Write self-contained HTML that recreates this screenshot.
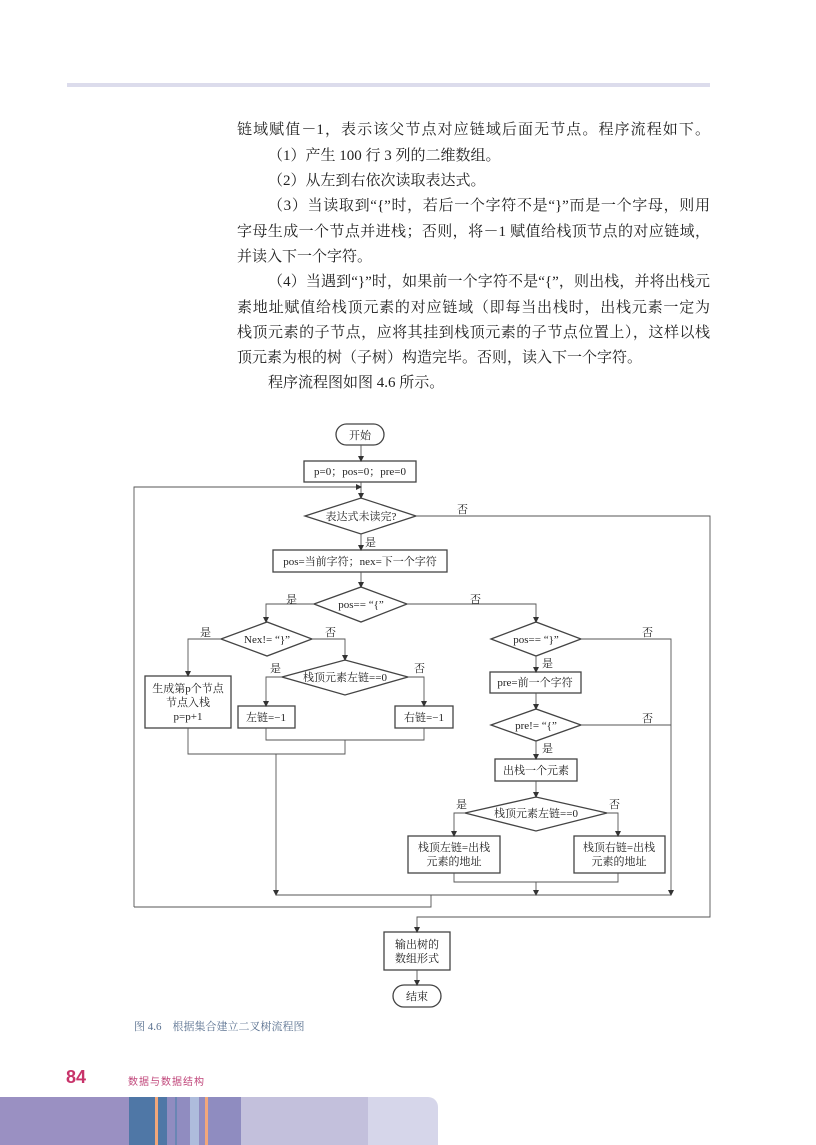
<!DOCTYPE html>
<html><head><meta charset="utf-8"><style>
*{margin:0;padding:0}
body{width:816px;height:1145px;position:relative;background:#fff;overflow:hidden;font-family:"Liberation Serif","Noto Serif CJK SC",serif;color:#222}
.rule{position:absolute;left:67px;top:83px;width:643px;height:4px;background:#dcdcec}
.l{position:absolute;left:237px;width:473px;font-size:15px;line-height:20px;white-space:nowrap}
.j{text-align:justify;text-align-last:justify;white-space:normal}
.in{left:268px;width:442px}
svg{position:absolute;left:0;top:0}
svg text{font-family:"Liberation Serif","Noto Serif CJK SC",serif;font-size:11px;fill:#222}
.cap{position:absolute;left:134px;top:1018px;font-size:11px;color:#5a7190;font-family:"Liberation Serif","Noto Serif CJK SC",serif}
.pn{position:absolute;left:66px;top:1067px;font:bold 18px "Liberation Sans",sans-serif;color:#c8336a}
.pt{position:absolute;left:128px;top:1073px;font-size:10px;color:#c0467a;font-family:"Liberation Sans","Noto Sans CJK SC",sans-serif;letter-spacing:1px}
.bar{position:absolute;top:1097px;height:48px}
</style></head><body>
<div class="rule"></div>
<div class="l j" style="top:120px">链域赋值－1，表示该父节点对应链域后面无节点。程序流程如下。</div>
<div class="l in" style="top:146px">（1）产生 100 行 3 列的二维数组。</div>
<div class="l in" style="top:171px">（2）从左到右依次读取表达式。</div>
<div class="l in j" style="top:196px">（3）当读取到“{”时，若后一个字符不是“}”而是一个字母，则用</div>
<div class="l j" style="top:222px">字母生成一个节点并进栈；否则，将－1 赋值给栈顶节点的对应链域，</div>
<div class="l" style="top:247px">并读入下一个字符。</div>
<div class="l in j" style="top:272px">（4）当遇到“}”时，如果前一个字符不是“{”，则出栈，并将出栈元</div>
<div class="l j" style="top:298px">素地址赋值给栈顶元素的对应链域（即每当出栈时，出栈元素一定为</div>
<div class="l j" style="top:323px">栈顶元素的子节点，应将其挂到栈顶元素的子节点位置上），这样以栈</div>
<div class="l" style="top:348px">顶元素为根的树（子树）构造完毕。否则，读入下一个字符。</div>
<div class="l in" style="top:373px">程序流程图如图 4.6 所示。</div>

<svg width="816" height="1145" viewBox="0 0 816 1145">
<defs><marker id="a" markerWidth="6" markerHeight="6" refX="5" refY="3" orient="auto" markerUnits="userSpaceOnUse"><path d="M0,0 L6,3 L0,6 z" fill="#333"/></marker></defs>
<g fill="none" stroke="#444" stroke-width="1">
<rect x="336" y="424" width="48" height="21" rx="10.5" stroke-width="1.3"/>
<rect x="304" y="461" width="112" height="21" stroke-width="1.3"/>
<polygon points="305,516 361,498 416,516 361,534" stroke-width="1.3"/>
<rect x="273" y="550" width="174" height="22" stroke-width="1.3"/>
<polygon points="314,604 361,587 407,604 361,622" stroke-width="1.3"/>
<polygon points="221,639 267,622 312,639 267,656" stroke-width="1.3"/>
<polygon points="282,677 345,660 408,677 345,695" stroke-width="1.3"/>
<rect x="145" y="676" width="86" height="52" stroke-width="1.3"/>
<rect x="238" y="706" width="57" height="22" stroke-width="1.3"/>
<rect x="395" y="706" width="58" height="22" stroke-width="1.3"/>
<polygon points="491,639 536,622 581,639 536,656" stroke-width="1.3"/>
<rect x="490" y="672" width="91" height="21" stroke-width="1.3"/>
<polygon points="491,725 536,709 581,725 536,741" stroke-width="1.3"/>
<rect x="495" y="759" width="82" height="22" stroke-width="1.3"/>
<polygon points="465,813 536,797 607,813 536,831" stroke-width="1.3"/>
<rect x="408" y="836" width="92" height="37" stroke-width="1.3"/>
<rect x="574" y="836" width="91" height="37" stroke-width="1.3"/>
<rect x="384" y="932" width="66" height="38" stroke-width="1.3"/>
<rect x="393" y="985" width="48" height="22" rx="11" stroke-width="1.3"/>
</g>
<g fill="none" stroke="#555" stroke-width="0.9">
<path d="M361,445 V461" marker-end="url(#a)"/>
<path d="M361,482 V498" marker-end="url(#a)"/>
<path d="M134,907 V487 H361" marker-end="url(#a)"/>
<path d="M416,516 H710 V917 H417 V932" marker-end="url(#a)"/>
<path d="M361,534 V550" marker-end="url(#a)"/>
<path d="M361,572 V587" marker-end="url(#a)"/>
<path d="M314,604 H266 V622" marker-end="url(#a)"/>
<path d="M407,604 H536 V622" marker-end="url(#a)"/>
<path d="M221,639 H188 V676" marker-end="url(#a)"/>
<path d="M312,639 H345 V660" marker-end="url(#a)"/>
<path d="M282,677 H266 V706" marker-end="url(#a)"/>
<path d="M408,677 H424 V706" marker-end="url(#a)"/>
<path d="M581,639 H671 V895" marker-end="url(#a)"/>
<path d="M581,725 H671"/>
<path d="M536,656 V672" marker-end="url(#a)"/>
<path d="M536,693 V709" marker-end="url(#a)"/>
<path d="M536,741 V759" marker-end="url(#a)"/>
<path d="M536,781 V797" marker-end="url(#a)"/>
<path d="M465,813 H454 V836" marker-end="url(#a)"/>
<path d="M607,813 H618 V836" marker-end="url(#a)"/>
<path d="M454,873 V882 H618 V873"/>
<path d="M536,882 V895" marker-end="url(#a)"/>
<path d="M266,728 V740 H424 V728"/>
<path d="M188,728 V754 H345 V740"/>
<path d="M276,754 V895" marker-end="url(#a)"/>
<path d="M276,895 H671"/>
<path d="M431,895 V907 H134"/>
<path d="M417,970 V985" marker-end="url(#a)"/>
</g>
<g>
<text x="360" y="439" text-anchor="middle">开始</text>
<text x="360" y="475" text-anchor="middle">p=0；pos=0；pre=0</text>
<text x="361" y="520" text-anchor="middle">表达式未读完?</text>
<text x="457" y="513">否</text>
<text x="365" y="546">是</text>
<text x="360" y="565" text-anchor="middle">pos=当前字符；nex=下一个字符</text>
<text x="361" y="608" text-anchor="middle">pos== “{”</text>
<text x="286" y="603">是</text>
<text x="470" y="603">否</text>
<text x="267" y="643" text-anchor="middle">Nex!= “}”</text>
<text x="200" y="636">是</text>
<text x="325" y="636">否</text>
<text x="345" y="681" text-anchor="middle">栈顶元素左链==0</text>
<text x="270" y="672">是</text>
<text x="414" y="672">否</text>
<text x="188" y="692" text-anchor="middle">生成第p个节点</text>
<text x="188" y="706" text-anchor="middle">节点入栈</text>
<text x="188" y="720" text-anchor="middle">p=p+1</text>
<text x="266" y="721" text-anchor="middle">左链=−1</text>
<text x="424" y="721" text-anchor="middle">右链=−1</text>
<text x="536" y="643" text-anchor="middle">pos== “}”</text>
<text x="642" y="636">否</text>
<text x="542" y="667">是</text>
<text x="535" y="686" text-anchor="middle">pre=前一个字符</text>
<text x="536" y="729" text-anchor="middle">pre!= “{”</text>
<text x="642" y="722">否</text>
<text x="542" y="752">是</text>
<text x="536" y="774" text-anchor="middle">出栈一个元素</text>
<text x="536" y="817" text-anchor="middle">栈顶元素左链==0</text>
<text x="456" y="808">是</text>
<text x="609" y="808">否</text>
<text x="454" y="851" text-anchor="middle">栈顶左链=出栈</text>
<text x="454" y="865" text-anchor="middle">元素的地址</text>
<text x="619" y="851" text-anchor="middle">栈顶右链=出栈</text>
<text x="619" y="865" text-anchor="middle">元素的地址</text>
<text x="417" y="948" text-anchor="middle">输出树的</text>
<text x="417" y="962" text-anchor="middle">数组形式</text>
<text x="417" y="1000" text-anchor="middle">结束</text>
</g>
</svg>
<div class="cap">图 4.6　根据集合建立二叉树流程图</div>
<div class="pn">84</div>
<div class="pt">数据与数据结构</div>
<div class="bar" style="left:0;width:129px;background:#9a90c2"></div>
<div class="bar" style="left:129px;width:26px;background:#4f77a6"></div>
<div class="bar" style="left:155px;width:3px;background:#f2a77a"></div>
<div class="bar" style="left:158px;width:9px;background:#4f77a6"></div>
<div class="bar" style="left:167px;width:23px;background:#908cc0"></div>
<div class="bar" style="left:175px;width:2px;background:#6a86b4"></div>
<div class="bar" style="left:190px;width:9px;background:#aebcdc"></div>
<div class="bar" style="left:199px;width:6px;background:#908cc0"></div>
<div class="bar" style="left:205px;width:3px;background:#f2a77a"></div>
<div class="bar" style="left:208px;width:33px;background:#8f8cc0"></div>
<div class="bar" style="left:241px;width:127px;background:#c3c0dc"></div>
<div class="bar" style="left:368px;width:70px;background:#d6d6ea;border-top-right-radius:10px"></div>
</body></html>
